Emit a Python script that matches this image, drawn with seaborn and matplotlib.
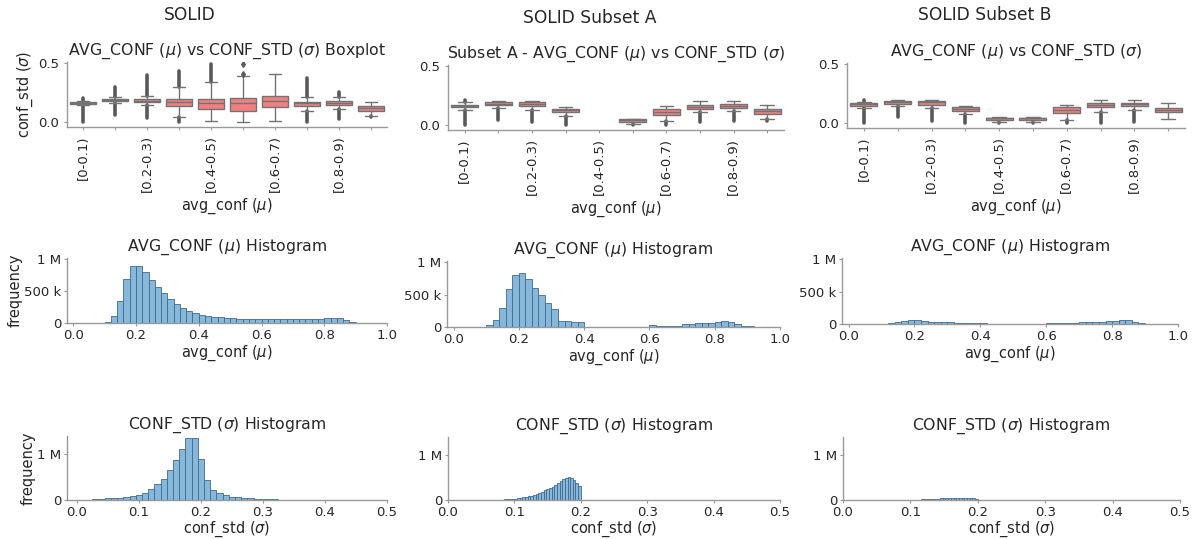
import numpy as np
import pandas as pd
import matplotlib
matplotlib.use("Agg")
import matplotlib.pyplot as plt
import seaborn as sns
from matplotlib.ticker import EngFormatter

sns.set_theme(style="ticks")
plt.rcParams['font.family'] = ['DejaVu Sans']
plt.rcParams['mathtext.fontset'] = 'dejavusans'

# ---------------- data ----------------
column_titles = ["SOLID", "SOLID Subset A", "SOLID Subset B"]
box_titles = ["AVG_CONF ($\\mu$) vs CONF_STD ($\\sigma$) Boxplot",
              "Subset A - AVG_CONF ($\\mu$) vs CONF_STD ($\\sigma$)",
              "AVG_CONF ($\\mu$) vs CONF_STD ($\\sigma$)"]
bin_labels = ["[0-0.1)", "[0.1-0.2)", "[0.2-0.3)", "[0.3-0.4)", "[0.4-0.5)",
              "[0.5-0.6)", "[0.6-0.7)", "[0.7-0.8)", "[0.8-0.9)", "[0.9-1.0)"]

# boxplot statistics (conf_std per avg_conf bin)
solid_med    = [.160, .185, .180, .166, .157, .160, .174, .157, .163, .114]
solid_q1     = [.155, .178, .170, .131, .109, .094, .123, .131, .143, .094]
solid_q3     = [.165, .193, .190, .194, .194, .206, .223, .171, .174, .131]
solid_wlo    = [.140, .160, .140, .043, .006, .000, .009, .094, .111, .049]
solid_whi    = [.180, .215, .220, .294, .337, .389, .406, .214, .209, .166]
solid_flo    = [.000, .060, .030, .000, .006, .000, .009, .000, .020, .040]
solid_fhi    = [.200, .300, .400, .430, .490, .389, .406, .374, .250, .166]
solid_single = [(5, .490), (5, .410)]

subA_med  = [.160, .180, .177, .123, np.nan, .040, .110, .150, .160, .114]
subA_q1   = [.149, .169, .160, .106, np.nan, .026, .086, .134, .143, .094]
subA_q3   = [.169, .197, .194, .137, np.nan, .049, .134, .169, .177, .131]
subA_wlo  = [.123, .143, .123, .071, np.nan, .009, .031, .106, .114, .049]
subA_whi  = [.194, .203, .203, .149, np.nan, .051, .157, .203, .203, .169]
subA_flo  = [.000, .043, .020, .000, np.nan, .000, .000, .020, .030, .030]
subA_fhi  = [.210, .203, .203, .149, np.nan, .051, .157, .203, .203, .169]

subB_med  = [.160, .180, .174, .120, .037, .037, .110, .150, .160, .110]
subB_q1   = [.146, .160, .151, .100, .023, .023, .083, .131, .140, .089]
subB_q3   = [.171, .189, .183, .134, .043, .043, .131, .166, .171, .129]
subB_wlo  = [.123, .143, .123, .071, .009, .009, .020, .094, .109, .031]
subB_whi  = [.180, .197, .190, .143, .049, .049, .151, .197, .197, .166]
subB_flo  = [.000, .050, .014, .000, .000, .000, .000, .000, .009, .031]
subB_fhi  = [.194, .197, .190, .143, .049, .049, .151, .197, .197, .166]

# avg_conf histograms (bin width 0.02)
avg_width = 0.02
solid_avg_start = 0.06
solid_avg_counts = [2e3, 5e3, 15e3, 105e3, 340e3, 690e3, 900e3, 900e3, 800e3, 670e3,
                    560e3, 470e3, 380e3, 300e3, 240e3, 195e3, 160e3, 130e3, 110e3, 100e3,
                    90e3, 85e3, 75e3, 70e3, 65e3, 60e3, 60e3, 55e3, 55e3, 55e3,
                    55e3, 55e3, 55e3, 55e3, 58e3, 62e3, 68e3, 78e3, 85e3, 80e3,
                    50e3, 20e3, 6e3, 2e3]
subA_avg_start = 0.08
subA_avg_counts = [3e3, 25e3, 108e3, 300e3, 590e3, 800e3, 835e3, 745e3, 605e3, 487e3,
                   375e3, 282e3, 92e3, 92e3, 82e3, 72e3, 5e3, 0, 0, 0,
                   0, 2e3, 2e3, 2e3, 2e3, 2e3, 30e3, 20e3, 20e3, 20e3,
                   20e3, 46e3, 51e3, 56e3, 62e3, 67e3, 77e3, 87e3, 82e3, 46e3,
                   20e3, 10e3, 3e3]
subB_avg_start = 0.08
subB_avg_counts = [3e3, 6e3, 12e3, 25e3, 50e3, 65e3, 60e3, 45e3, 35e3, 30e3,
                   28e3, 25e3, 22e3, 20e3, 18e3, 15e3, 8e3, 3e3, 2e3, 2e3,
                   2e3, 2e3, 2e3, 2e3, 2e3, 2e3, 15e3, 12e3, 12e3, 12e3,
                   14e3, 28e3, 32e3, 35e3, 38e3, 42e3, 50e3, 55e3, 55e3, 30e3,
                   12e3, 5e3]

# conf_std histograms
solid_std_width = 0.01
solid_std_start = 0.025
solid_std_counts = [22e3, 29e3, 36e3, 43e3, 50e3, 65e3, 87e3, 116e3, 160e3, 240e3,
                    340e3, 460e3, 650e3, 870e3, 1120e3, 1360e3, 1350e3, 900e3, 430e3, 220e3,
                    145e3, 110e3, 75e3, 58e3, 45e3, 35e3, 28e3, 22e3, 17e3, 13e3,
                    10e3, 8e3]
sub_std_width = 0.004
subA_std_start = 0.06
subA_std_counts = [5e3, 6e3, 7e3, 8e3, 9e3, 11e3, 13e3, 16e3, 20e3, 25e3,
                   32e3, 40e3, 48e3, 58e3, 68e3, 80e3, 95e3, 110e3, 130e3, 155e3,
                   185e3, 215e3, 240e3, 270e3, 300e3, 340e3, 380e3, 430e3, 470e3, 500e3,
                   515e3, 500e3, 450e3, 380e3, 310e3]
subB_std_start = 0.076
subB_std_counts = [3e3, 4e3, 4e3, 5e3, 5e3, 6e3, 7e3, 8e3, 9e3, 10e3,
                   12e3, 14e3, 16e3, 19e3, 22e3, 26e3, 30e3, 34e3, 38e3, 41e3,
                   44e3, 46e3, 47e3, 48e3, 48e3, 47e3, 46e3, 44e3, 40e3, 35e3,
                   28e3]

# ---------------- layout ----------------
W, H = 1195, 539
fig = plt.figure(figsize=(W / 100, H / 100), dpi=100)


def add_ax(l, r, t, b):
    return fig.add_axes([l / W, 1 - b / H, (r - l) / W, (b - t) / H])


box_rects = [(67, 387, 62, 127), (448, 784, 65, 130), (847, 1185, 63, 128)]
avg_rects = [(67, 387, 258, 323), (447, 780, 261, 327), (842, 1178, 258, 324)]
std_rects = [(67, 387, 436, 500), (448, 780, 437, 500), (843, 1180, 437, 500)]

TXT = '0.15'
SPINE = '0.6'
BOX_FACE = '#F08080'
BOX_EDGE = '0.45'
HIST_FACE = '#86b8dc'
HIST_EDGE = '#41698c'
LBL = 10.5
TICK = 9.5


def style_ax(ax, pad=1.8):
    sns.despine(ax=ax)
    for s in ['left', 'bottom']:
        ax.spines[s].set_color(SPINE)
        ax.spines[s].set_linewidth(1.0)
    ax.tick_params(colors=SPINE, labelcolor=TXT, labelsize=TICK, length=2.5,
                   width=0.8, pad=pad)


def draw_box(ax, med, q1, q3, wlo, whi, flo, fhi, singles, title):
    stats, pos = [], []
    for i in range(len(bin_labels)):
        if np.isnan(med[i]):
            continue
        stats.append(dict(med=med[i], q1=q1[i], q3=q3[i], whislo=wlo[i],
                          whishi=whi[i], fliers=[]))
        pos.append(i)
        if flo[i] < wlo[i]:
            ax.vlines(i, flo[i], wlo[i], color='0.35', lw=2.6, zorder=1,
                      capstyle='round')
        if fhi[i] > whi[i]:
            ax.vlines(i, whi[i], fhi[i], color='0.35', lw=2.6, zorder=1,
                      capstyle='round')
    ax.bxp(stats, positions=pos, widths=0.8, capwidths=0.4, patch_artist=True,
           showfliers=False, manage_ticks=False,
           boxprops=dict(facecolor=BOX_FACE, edgecolor=BOX_EDGE, linewidth=1.0),
           medianprops=dict(color=BOX_EDGE, linewidth=1.0),
           whiskerprops=dict(color=BOX_EDGE, linewidth=1.0),
           capprops=dict(color=BOX_EDGE, linewidth=1.0))
    for (i, v) in singles:
        ax.plot([i], [v], marker='d', ms=3, color='0.35', ls='none')
    ax.set_xlim(-0.5, 9.5)
    ax.set_ylim(-0.045, 0.51)
    ax.set_yticks([0.0, 0.5])
    ax.set_yticklabels(["0.0", "0.5"])
    ax.set_xticks(range(len(bin_labels)))
    ax.set_xticklabels([lab if k % 2 == 0 else "" for k, lab in enumerate(bin_labels)],
                       rotation=90)
    ax.set_xlabel("avg_conf ($\\mu$)", fontsize=LBL, color=TXT, labelpad=3)
    ax.set_title(title, fontsize=11.3, color=TXT, pad=5)
    style_ax(ax, pad=3.5)


def draw_hist(ax, start, width, counts):
    n = len(counts)
    edges = [start + width * k for k in range(n + 1)]
    df = pd.DataFrame({"value": [e + width / 2 for e in edges[:-1]], "count": counts})
    sns.histplot(data=df, x="value", weights="count", bins=edges, ax=ax,
                 color=HIST_FACE, alpha=1.0, edgecolor=HIST_EDGE, linewidth=0.6)
    ax.yaxis.set_major_formatter(EngFormatter(sep=" "))
    ax.set_ylabel("")


box_data = [
    (solid_med, solid_q1, solid_q3, solid_wlo, solid_whi, solid_flo, solid_fhi, solid_single),
    (subA_med, subA_q1, subA_q3, subA_wlo, subA_whi, subA_flo, subA_fhi, []),
    (subB_med, subB_q1, subB_q3, subB_wlo, subB_whi, subB_flo, subB_fhi, []),
]
avg_data = [(solid_avg_start, solid_avg_counts), (subA_avg_start, subA_avg_counts),
            (subB_avg_start, subB_avg_counts)]
std_data = [(solid_std_start, solid_std_width, solid_std_counts),
            (subA_std_start, sub_std_width, subA_std_counts),
            (subB_std_start, sub_std_width, subB_std_counts)]
col_centers = [190, 590, 985]
col_title_y = [15, 18, 15]

for c in range(3):
    fig.text(col_centers[c] / W, 1 - col_title_y[c] / H, column_titles[c],
             ha='center', va='center', fontsize=12.3, color=TXT)

    axb = add_ax(*box_rects[c])
    draw_box(axb, *box_data[c], box_titles[c])
    if c == 0:
        axb.set_ylabel("conf_std ($\\sigma$)", fontsize=LBL, color=TXT, labelpad=2)

    axa = add_ax(*avg_rects[c])
    draw_hist(axa, avg_data[c][0], avg_width, avg_data[c][1])
    axa.set_xlim(-0.02, 1.0)
    axa.set_ylim(0, 1.02e6)
    axa.set_yticks([0, 500000, 1000000])
    axa.set_xticks([0.0, 0.2, 0.4, 0.6, 0.8, 1.0])
    axa.set_xlabel("avg_conf ($\\mu$)", fontsize=LBL, color=TXT, labelpad=1)
    axa.set_title("AVG_CONF ($\\mu$) Histogram", fontsize=11.3, color=TXT, pad=5)
    style_ax(axa)
    if c == 0:
        axa.set_ylabel("frequency", fontsize=LBL, color=TXT, labelpad=1)

    axs = add_ax(*std_rects[c])
    draw_hist(axs, *std_data[c])
    axs.set_xlim(-0.016 if c == 0 else 0.0, 0.5)
    axs.set_ylim(0, 1.4e6)
    axs.set_yticks([0, 1000000])
    axs.set_xticks([0.0, 0.1, 0.2, 0.3, 0.4, 0.5])
    axs.set_xlabel("conf_std ($\\sigma$)", fontsize=LBL, color=TXT, labelpad=0.5)
    axs.set_title("CONF_STD ($\\sigma$) Histogram", fontsize=11.3, color=TXT, pad=5)
    style_ax(axs)
    if c == 0:
        axs.set_ylabel("frequency", fontsize=LBL, color=TXT, labelpad=1)

fig.savefig("out.png", dpi=100)
